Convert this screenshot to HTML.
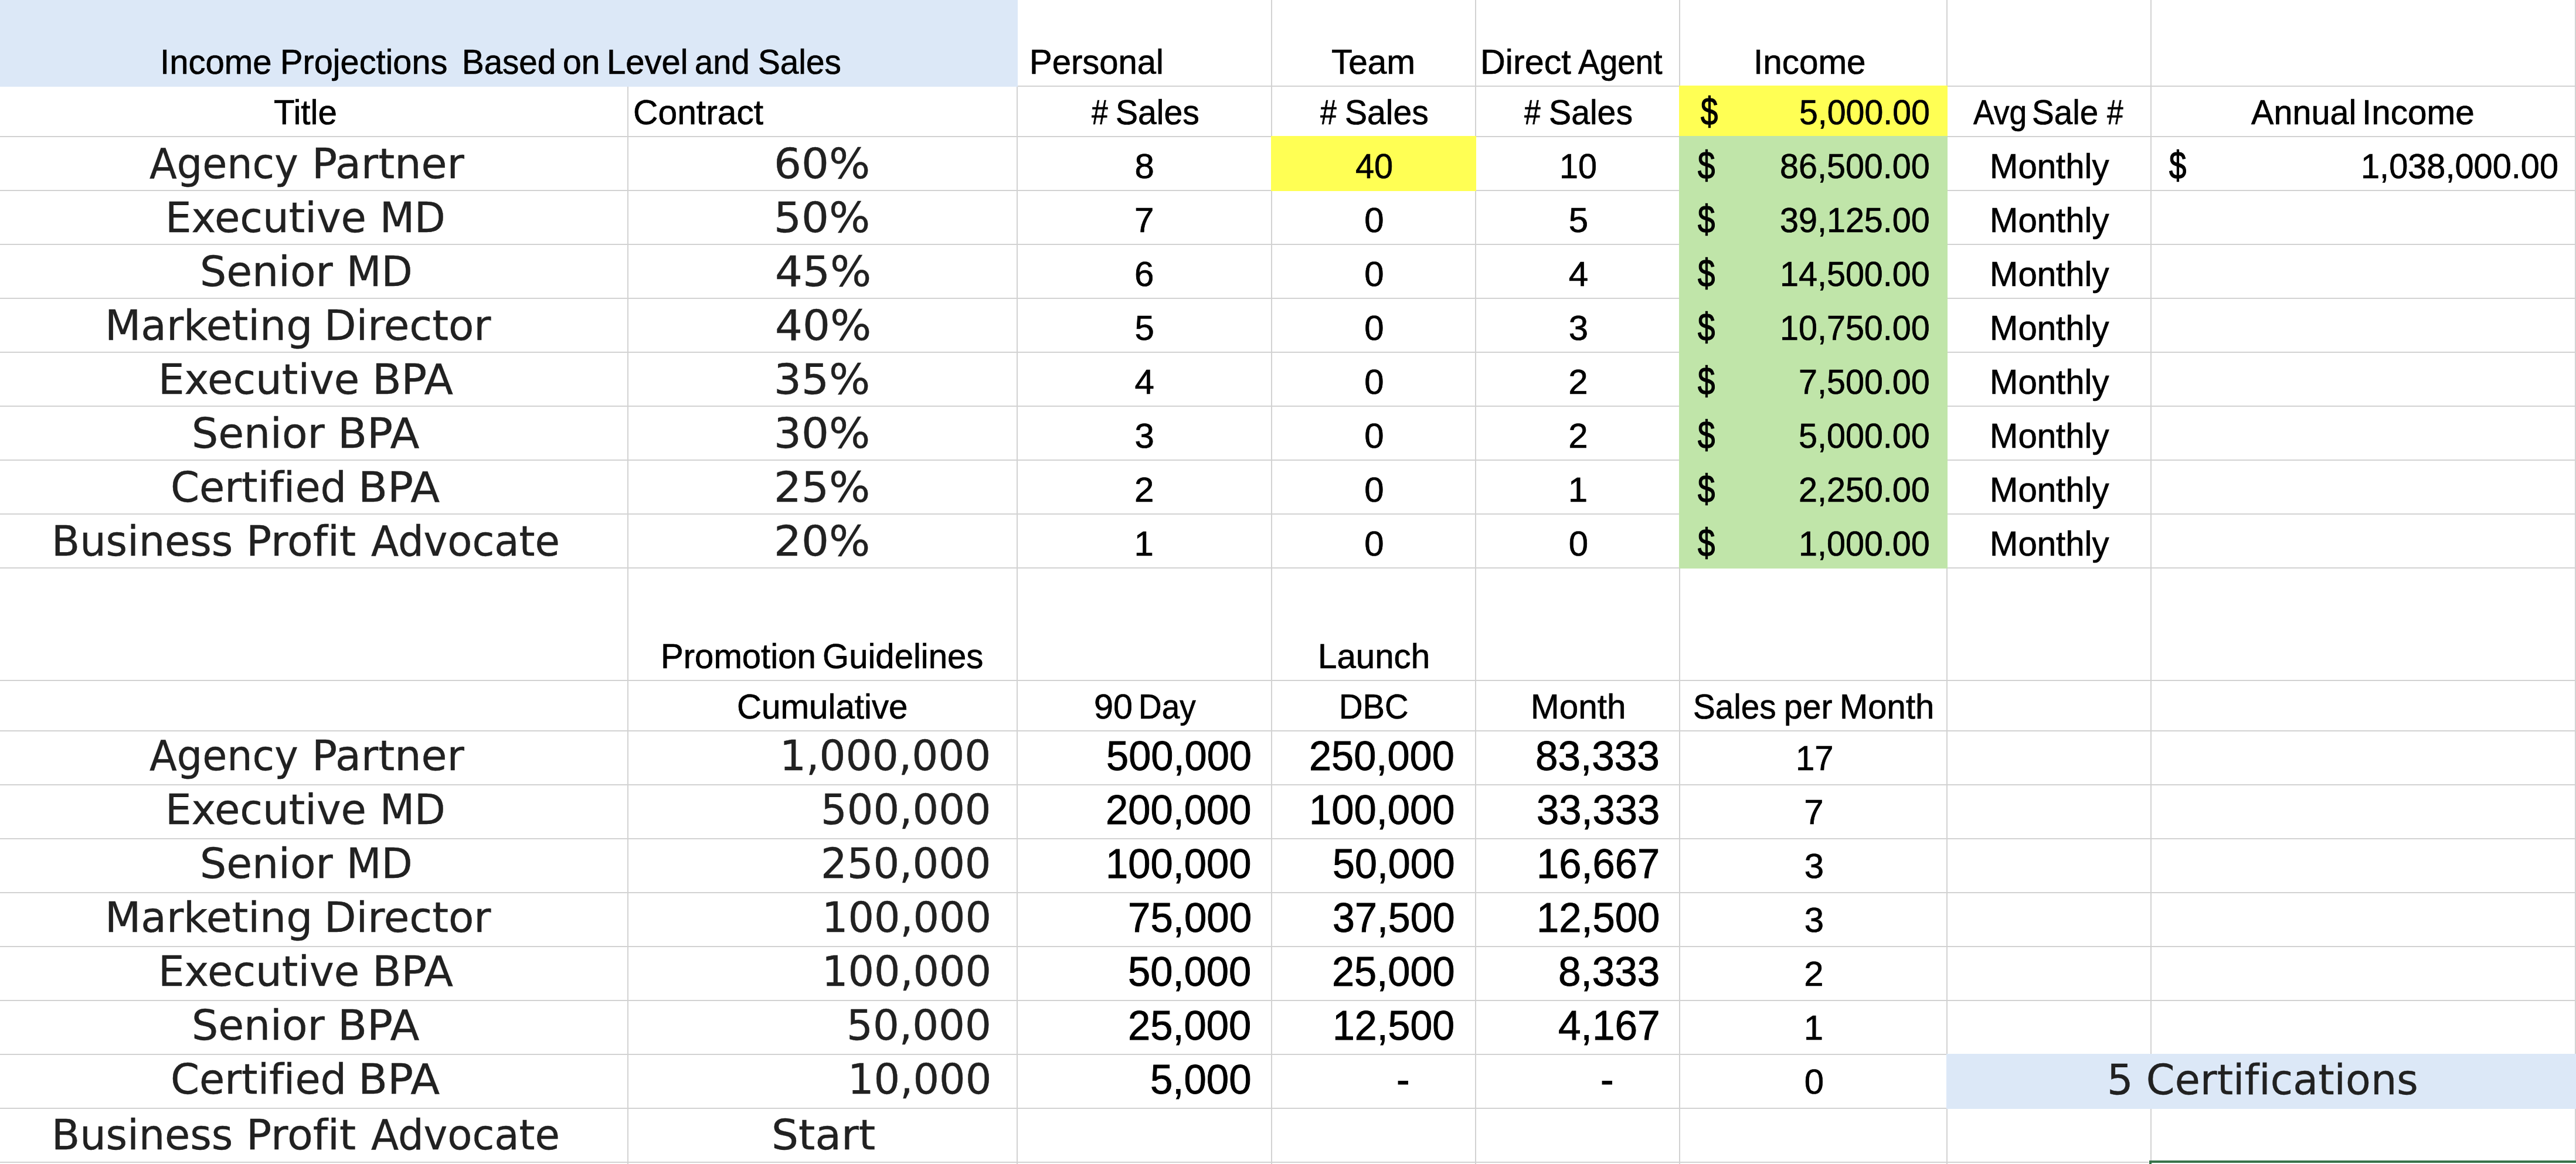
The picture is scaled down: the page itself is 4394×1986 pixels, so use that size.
<!DOCTYPE html>
<html lang="en"><head><meta charset="utf-8"><title>Income Projections</title>
<style>
html,body{margin:0;padding:0;background:#fff}
#sheet{position:relative;width:4394px;height:1986px;overflow:hidden;background:#fff}
.h,.v,.f,.t{position:absolute}
.h{left:0;width:4394px;height:2px;background:#d2d2d2}
.v{top:0;width:2px;height:1986px;background:#d2d2d2}
.t{white-space:pre;line-height:1;transform-origin:0 0;font-variant-ligatures:none}
.s{font-family:"Liberation Sans",sans-serif;font-size:60.0px;color:#000;-webkit-text-stroke:0.7px #000}
.d{font-family:"Liberation Sans",sans-serif;font-size:60.0px;color:#000;-webkit-text-stroke:1.2px #000}
.l{font-family:"Liberation Sans",sans-serif;font-size:70.2px;color:#000;-webkit-text-stroke:0.9px #000}
.vd{font-family:"DejaVu Sans","Liberation Sans",sans-serif;font-size:70.4px;color:#212121;-webkit-text-stroke:0.4px #212121}
</style></head><body>
<div id="sheet">
<div class="h" style="top:146px"></div>
<div class="h" style="top:232px"></div>
<div class="h" style="top:324px"></div>
<div class="h" style="top:416px"></div>
<div class="h" style="top:508px"></div>
<div class="h" style="top:600px"></div>
<div class="h" style="top:692px"></div>
<div class="h" style="top:784px"></div>
<div class="h" style="top:876px"></div>
<div class="h" style="top:968px"></div>
<div class="h" style="top:1160px"></div>
<div class="h" style="top:1246px"></div>
<div class="h" style="top:1338px"></div>
<div class="h" style="top:1430px"></div>
<div class="h" style="top:1522px"></div>
<div class="h" style="top:1614px"></div>
<div class="h" style="top:1706px"></div>
<div class="h" style="top:1798px"></div>
<div class="h" style="top:1890px"></div>
<div class="h" style="top:1982px"></div>
<div class="v" style="left:1070px"></div>
<div class="v" style="left:1734px"></div>
<div class="v" style="left:2168px"></div>
<div class="v" style="left:2516px"></div>
<div class="v" style="left:2864px"></div>
<div class="v" style="left:3320px"></div>
<div class="v" style="left:3668px"></div>
<div class="v" style="left:4392px"></div>
<div class="f" style="left:0px;top:0px;width:1736px;height:148px;background:#dce8f7"></div>
<div class="f" style="left:2864px;top:146px;width:458px;height:86px;background:#ffff54"></div>
<div class="f" style="left:2864px;top:232px;width:458px;height:738px;background:#c0e5a9"></div>
<div class="f" style="left:2168px;top:232px;width:350px;height:94px;background:#ffff54"></div>
<div class="f" style="left:3320px;top:1798px;width:1074px;height:94px;background:#dce8f7"></div>
<div class="f" style="left:3665px;top:1980px;width:729px;height:6px;background:#fff"></div>
<div class="f" style="left:3666px;top:1980px;width:728px;height:4px;background:#37734a"></div>
<div class="f" style="left:3666px;top:1980px;width:4px;height:6px;background:#37734a"></div>
<span class="p"><span class="t s" style="left:273.16px;top:75.90px;transform:scale(0.9684,1.0000)">Income</span> <span class="t s" style="left:477.69px;top:75.90px;transform:scale(0.9614,1.0000)">Projections</span>  <span class="t s" style="left:787.79px;top:75.90px;transform:scale(0.9414,1.0000)">Based</span> <span class="t s" style="left:960.10px;top:75.90px;transform:scale(0.9508,1.0000)">on</span> <span class="t s" style="left:1035.17px;top:75.90px;transform:scale(0.9667,1.0000)">Level</span> <span class="t s" style="left:1185.13px;top:75.90px;transform:scale(0.9368,1.0000)">and</span> <span class="t s" style="left:1292.61px;top:75.90px;transform:scale(0.9452,1.0000)">Sales</span></span>
<span class="t s" style="left:1755.86px;top:75.90px;transform:scale(0.9671,1.0000)">Personal</span>
<span class="t s" style="left:2271.02px;top:75.90px;transform:scale(0.9754,1.0000)">Team</span>
<span class="p"><span class="t s" style="left:2524.66px;top:75.90px;transform:scale(0.9882,1.0000)">Direct</span> <span class="t s" style="left:2692.00px;top:75.90px;transform:scale(0.9153,1.0000)">Agent</span></span>
<span class="t s" style="left:2991.13px;top:75.90px;transform:scale(0.9737,1.0000)">Income</span>
<span class="t s" style="left:466.93px;top:161.70px;transform:scale(0.9704,1.0000)">Title</span>
<span class="t s" style="left:1079.56px;top:161.70px;transform:scale(0.9799,1.0000)">Contract</span>
<span class="p"><span class="t s" style="left:1862.40px;top:161.70px;transform:scale(0.8303,1.0000)">#</span> <span class="t s" style="left:1903.30px;top:161.70px;transform:scale(0.9521,1.0000)">Sales</span></span>
<span class="p"><span class="t s" style="left:2252.00px;top:161.70px;transform:scale(0.8364,1.0000)">#</span> <span class="t s" style="left:2293.60px;top:161.70px;transform:scale(0.9521,1.0000)">Sales</span></span>
<span class="p"><span class="t s" style="left:2600.30px;top:161.70px;transform:scale(0.8303,1.0000)">#</span> <span class="t s" style="left:2641.99px;top:161.70px;transform:scale(0.9527,1.0000)">Sales</span></span>
<span class="t d" style="left:2901.40px;top:156.80px;transform:scale(0.8788,1.1167)">$</span>
<span class="t s" style="left:3068.59px;top:161.70px;transform:scale(0.9539,1.0000)">5,000.00</span>
<span class="p"><span class="t s" style="left:3366.20px;top:161.70px;transform:scale(0.8929,1.0000)">Avg</span> <span class="t s" style="left:3465.61px;top:161.70px;transform:scale(0.9431,1.0000)">Sale</span> <span class="t s" style="left:3594.20px;top:161.70px;transform:scale(0.8273,1.0000)">#</span></span>
<span class="p"><span class="t s" style="left:3840.30px;top:161.70px;transform:scale(0.9601,1.0000)">Annual</span> <span class="t s" style="left:4028.73px;top:161.70px;transform:scale(0.9747,1.0000)">Income</span></span>
<span class="p"><span class="t vd" style="left:255.00px;top:244.70px;transform:scale(0.9714,1.0000)">Agency</span> <span class="t vd" style="left:532.39px;top:244.70px;transform:scale(1.0161,1.0000)">Partner</span></span>
<span class="t vd" style="left:1320.45px;top:244.70px;transform:scale(1.0500,1.0000)">60%</span>
<span class="t s" style="left:1935.50px;top:254.20px;transform:scale(1.0000,1.0000)">8</span>
<span class="t s" style="left:2311.84px;top:254.20px;transform:scale(0.9625,1.0000)">40</span>
<span class="t s" style="left:2659.66px;top:254.20px;transform:scale(0.9590,1.0000)">10</span>
<span class="t d" style="left:2895.70px;top:249.30px;transform:scale(0.8818,1.1167)">$</span>
<span class="t s" style="left:3036.01px;top:254.20px;transform:scale(0.9581,1.0000)">86,500.00</span>
<span class="t s" style="left:3393.76px;top:254.20px;transform:scale(0.9683,1.0000)">Monthly</span>
<span class="p"><span class="t vd" style="left:282.00px;top:336.70px;transform:scale(1.0006,1.0000)">Executive</span> <span class="t vd" style="left:647.90px;top:336.70px;transform:scale(0.9721,1.0000)">MD</span></span>
<span class="t vd" style="left:1320.45px;top:336.70px;transform:scale(1.0500,1.0000)">50%</span>
<span class="t s" style="left:1935.00px;top:346.20px;transform:scale(1.0000,1.0000)">7</span>
<span class="t s" style="left:2327.30px;top:346.20px;transform:scale(1.0000,1.0000)">0</span>
<span class="t s" style="left:2675.80px;top:346.20px;transform:scale(1.0000,1.0000)">5</span>
<span class="t d" style="left:2895.70px;top:341.30px;transform:scale(0.8818,1.1167)">$</span>
<span class="t s" style="left:3036.01px;top:346.20px;transform:scale(0.9581,1.0000)">39,125.00</span>
<span class="t s" style="left:3393.76px;top:346.20px;transform:scale(0.9683,1.0000)">Monthly</span>
<span class="p"><span class="t vd" style="left:341.45px;top:428.70px;transform:scale(1.0114,1.0000)">Senior</span> <span class="t vd" style="left:591.33px;top:428.70px;transform:scale(0.9808,1.0000)">MD</span></span>
<span class="t vd" style="left:1321.50px;top:428.70px;transform:scale(1.0500,1.0000)">45%</span>
<span class="t s" style="left:1935.00px;top:438.20px;transform:scale(1.0000,1.0000)">6</span>
<span class="t s" style="left:2327.30px;top:438.20px;transform:scale(1.0000,1.0000)">0</span>
<span class="t s" style="left:2675.80px;top:438.20px;transform:scale(1.0000,1.0000)">4</span>
<span class="t d" style="left:2895.70px;top:433.30px;transform:scale(0.8818,1.1167)">$</span>
<span class="t s" style="left:3036.01px;top:438.20px;transform:scale(0.9581,1.0000)">14,500.00</span>
<span class="t s" style="left:3393.76px;top:438.20px;transform:scale(0.9683,1.0000)">Monthly</span>
<span class="p"><span class="t vd" style="left:178.63px;top:520.70px;transform:scale(1.0098,1.0000)">Marketing</span> <span class="t vd" style="left:553.46px;top:520.70px;transform:scale(1.0054,1.0000)">Director</span></span>
<span class="t vd" style="left:1321.50px;top:520.70px;transform:scale(1.0500,1.0000)">40%</span>
<span class="t s" style="left:1935.50px;top:530.20px;transform:scale(1.0000,1.0000)">5</span>
<span class="t s" style="left:2327.30px;top:530.20px;transform:scale(1.0000,1.0000)">0</span>
<span class="t s" style="left:2675.80px;top:530.20px;transform:scale(1.0000,1.0000)">3</span>
<span class="t d" style="left:2895.70px;top:525.30px;transform:scale(0.8818,1.1167)">$</span>
<span class="t s" style="left:3036.01px;top:530.20px;transform:scale(0.9581,1.0000)">10,750.00</span>
<span class="t s" style="left:3393.76px;top:530.20px;transform:scale(0.9683,1.0000)">Monthly</span>
<span class="p"><span class="t vd" style="left:269.59px;top:612.70px;transform:scale(1.0009,1.0000)">Executive</span> <span class="t vd" style="left:635.11px;top:612.70px;transform:scale(1.0276,1.0000)">BPA</span></span>
<span class="t vd" style="left:1320.45px;top:612.70px;transform:scale(1.0500,1.0000)">35%</span>
<span class="t s" style="left:1935.50px;top:622.20px;transform:scale(1.0000,1.0000)">4</span>
<span class="t s" style="left:2327.30px;top:622.20px;transform:scale(1.0000,1.0000)">0</span>
<span class="t s" style="left:2675.30px;top:622.20px;transform:scale(1.0000,1.0000)">2</span>
<span class="t d" style="left:2895.70px;top:617.30px;transform:scale(0.8818,1.1167)">$</span>
<span class="t s" style="left:3067.63px;top:622.20px;transform:scale(0.9581,1.0000)">7,500.00</span>
<span class="t s" style="left:3393.76px;top:622.20px;transform:scale(0.9683,1.0000)">Monthly</span>
<span class="p"><span class="t vd" style="left:327.25px;top:704.70px;transform:scale(1.0114,1.0000)">Senior</span> <span class="t vd" style="left:576.04px;top:704.70px;transform:scale(1.0370,1.0000)">BPA</span></span>
<span class="t vd" style="left:1320.45px;top:704.70px;transform:scale(1.0500,1.0000)">30%</span>
<span class="t s" style="left:1935.50px;top:714.20px;transform:scale(1.0000,1.0000)">3</span>
<span class="t s" style="left:2327.30px;top:714.20px;transform:scale(1.0000,1.0000)">0</span>
<span class="t s" style="left:2675.30px;top:714.20px;transform:scale(1.0000,1.0000)">2</span>
<span class="t d" style="left:2895.70px;top:709.30px;transform:scale(0.8818,1.1167)">$</span>
<span class="t s" style="left:3067.63px;top:714.20px;transform:scale(0.9581,1.0000)">5,000.00</span>
<span class="t s" style="left:3393.76px;top:714.20px;transform:scale(0.9683,1.0000)">Monthly</span>
<span class="p"><span class="t vd" style="left:291.01px;top:796.70px;transform:scale(0.9976,1.0000)">Certified</span> <span class="t vd" style="left:611.45px;top:796.70px;transform:scale(1.0362,1.0000)">BPA</span></span>
<span class="t vd" style="left:1320.45px;top:796.70px;transform:scale(1.0500,1.0000)">25%</span>
<span class="t s" style="left:1935.00px;top:806.20px;transform:scale(1.0000,1.0000)">2</span>
<span class="t s" style="left:2327.30px;top:806.20px;transform:scale(1.0000,1.0000)">0</span>
<span class="t s" style="left:2674.80px;top:806.20px;transform:scale(1.0000,1.0000)">1</span>
<span class="t d" style="left:2895.70px;top:801.30px;transform:scale(0.8818,1.1167)">$</span>
<span class="t s" style="left:3067.63px;top:806.20px;transform:scale(0.9581,1.0000)">2,250.00</span>
<span class="t s" style="left:3393.76px;top:806.20px;transform:scale(0.9683,1.0000)">Monthly</span>
<span class="p"><span class="t vd" style="left:87.72px;top:888.70px;transform:scale(0.9967,1.0000)">Business</span> <span class="t vd" style="left:419.57px;top:888.70px;transform:scale(1.0189,1.0000)">Profit</span> <span class="t vd" style="left:632.50px;top:888.70px;transform:scale(0.9782,1.0000)">Advocate</span></span>
<span class="t vd" style="left:1320.45px;top:888.70px;transform:scale(1.0500,1.0000)">20%</span>
<span class="t s" style="left:1934.50px;top:898.20px;transform:scale(1.0000,1.0000)">1</span>
<span class="t s" style="left:2327.30px;top:898.20px;transform:scale(1.0000,1.0000)">0</span>
<span class="t s" style="left:2675.80px;top:898.20px;transform:scale(1.0000,1.0000)">0</span>
<span class="t d" style="left:2895.70px;top:893.30px;transform:scale(0.8818,1.1167)">$</span>
<span class="t s" style="left:3067.63px;top:898.20px;transform:scale(0.9581,1.0000)">1,000.00</span>
<span class="t s" style="left:3393.76px;top:898.20px;transform:scale(0.9683,1.0000)">Monthly</span>
<span class="t d" style="left:3699.50px;top:249.30px;transform:scale(0.8788,1.1167)">$</span>
<span class="t s" style="left:4027.15px;top:254.20px;transform:scale(0.9622,1.0000)">1,038,000.00</span>
<span class="p"><span class="t s" style="left:1127.36px;top:1090.00px;transform:scale(0.9683,1.0000)">Promotion</span> <span class="t s" style="left:1403.40px;top:1090.00px;transform:scale(0.9677,1.0000)">Guidelines</span></span>
<span class="t s" style="left:2248.15px;top:1090.00px;transform:scale(0.9707,1.0000)">Launch</span>
<span class="t s" style="left:1257.09px;top:1176.00px;transform:scale(0.9712,1.0000)">Cumulative</span>
<span class="p"><span class="t s" style="left:1865.72px;top:1176.00px;transform:scale(0.9889,1.0000)">90</span> <span class="t s" style="left:1942.13px;top:1176.00px;transform:scale(0.9147,1.0000)">Day</span></span>
<span class="t s" style="left:2284.32px;top:1176.00px;transform:scale(0.9370,1.0000)">DBC</span>
<span class="t s" style="left:2610.63px;top:1176.00px;transform:scale(0.9747,1.0000)">Month</span>
<span class="p"><span class="t s" style="left:2888.01px;top:1176.00px;transform:scale(0.9438,1.0000)">Sales</span> <span class="t s" style="left:3042.50px;top:1176.00px;transform:scale(0.9500,1.0000)">per</span> <span class="t s" style="left:3137.96px;top:1176.00px;transform:scale(0.9671,1.0000)">Month</span></span>
<span class="p"><span class="t vd" style="left:255.00px;top:1255.10px;transform:scale(0.9714,1.0000)">Agency</span> <span class="t vd" style="left:532.39px;top:1255.10px;transform:scale(1.0161,1.0000)">Partner</span></span>
<span class="t vd" style="left:1330.46px;top:1255.10px;transform:scale(1.0058,1.0000)">1,000,000</span>
<span class="t l" style="left:1886.64px;top:1255.10px;transform:scale(0.9775,1.0000)">500,000</span>
<span class="t l" style="left:2233.47px;top:1255.10px;transform:scale(0.9766,1.0000)">250,000</span>
<span class="t l" style="left:2618.94px;top:1255.10px;transform:scale(0.9866,1.0000)">83,333</span>
<span class="t s" style="left:3062.73px;top:1264.10px;transform:scale(0.9683,1.0000)">17</span>
<span class="p"><span class="t vd" style="left:282.00px;top:1347.10px;transform:scale(1.0006,1.0000)">Executive</span> <span class="t vd" style="left:647.90px;top:1347.10px;transform:scale(0.9721,1.0000)">MD</span></span>
<span class="t vd" style="left:1400.01px;top:1347.10px;transform:scale(0.9982,1.0000)">500,000</span>
<span class="t l" style="left:1886.24px;top:1347.10px;transform:scale(0.9791,1.0000)">200,000</span>
<span class="t l" style="left:2232.84px;top:1347.10px;transform:scale(0.9791,1.0000)">100,000</span>
<span class="t l" style="left:2620.52px;top:1347.10px;transform:scale(0.9791,1.0000)">33,333</span>
<span class="t s" style="left:3077.20px;top:1356.10px;transform:scale(1.0000,1.0000)">7</span>
<span class="p"><span class="t vd" style="left:341.45px;top:1439.10px;transform:scale(1.0114,1.0000)">Senior</span> <span class="t vd" style="left:591.33px;top:1439.10px;transform:scale(0.9808,1.0000)">MD</span></span>
<span class="t vd" style="left:1400.01px;top:1439.10px;transform:scale(0.9982,1.0000)">250,000</span>
<span class="t l" style="left:1886.10px;top:1439.10px;transform:scale(0.9797,1.0000)">100,000</span>
<span class="t l" style="left:2272.56px;top:1439.10px;transform:scale(0.9719,1.0000)">50,000</span>
<span class="t l" style="left:2620.61px;top:1439.10px;transform:scale(0.9787,1.0000)">16,667</span>
<span class="t s" style="left:3077.70px;top:1448.10px;transform:scale(1.0000,1.0000)">3</span>
<span class="p"><span class="t vd" style="left:178.63px;top:1531.10px;transform:scale(1.0098,1.0000)">Marketing</span> <span class="t vd" style="left:553.46px;top:1531.10px;transform:scale(1.0054,1.0000)">Director</span></span>
<span class="t vd" style="left:1401.55px;top:1531.10px;transform:scale(0.9929,1.0000)">100,000</span>
<span class="t l" style="left:1923.55px;top:1531.10px;transform:scale(0.9833,1.0000)">75,000</span>
<span class="t l" style="left:2272.56px;top:1531.10px;transform:scale(0.9719,1.0000)">37,500</span>
<span class="t l" style="left:2620.61px;top:1531.10px;transform:scale(0.9787,1.0000)">12,500</span>
<span class="t s" style="left:3077.70px;top:1540.10px;transform:scale(1.0000,1.0000)">3</span>
<span class="p"><span class="t vd" style="left:269.59px;top:1623.10px;transform:scale(1.0009,1.0000)">Executive</span> <span class="t vd" style="left:635.11px;top:1623.10px;transform:scale(1.0276,1.0000)">BPA</span></span>
<span class="t vd" style="left:1401.55px;top:1623.10px;transform:scale(0.9929,1.0000)">100,000</span>
<span class="t l" style="left:1924.42px;top:1623.10px;transform:scale(0.9791,1.0000)">50,000</span>
<span class="t l" style="left:2271.57px;top:1623.10px;transform:scale(0.9766,1.0000)">25,000</span>
<span class="t l" style="left:2657.54px;top:1623.10px;transform:scale(0.9859,1.0000)">8,333</span>
<span class="t s" style="left:3077.20px;top:1632.10px;transform:scale(1.0000,1.0000)">2</span>
<span class="p"><span class="t vd" style="left:327.25px;top:1715.10px;transform:scale(1.0114,1.0000)">Senior</span> <span class="t vd" style="left:576.04px;top:1715.10px;transform:scale(1.0370,1.0000)">BPA</span></span>
<span class="t vd" style="left:1443.99px;top:1715.10px;transform:scale(1.0021,1.0000)">50,000</span>
<span class="t l" style="left:1924.42px;top:1715.10px;transform:scale(0.9791,1.0000)">25,000</span>
<span class="t l" style="left:2273.15px;top:1715.10px;transform:scale(0.9691,1.0000)">12,500</span>
<span class="t l" style="left:2658.01px;top:1715.10px;transform:scale(0.9889,1.0000)">4,167</span>
<span class="t s" style="left:3076.70px;top:1724.10px;transform:scale(1.0000,1.0000)">1</span>
<span class="p"><span class="t vd" style="left:291.01px;top:1807.10px;transform:scale(0.9976,1.0000)">Certified</span> <span class="t vd" style="left:611.45px;top:1807.10px;transform:scale(1.0362,1.0000)">BPA</span></span>
<span class="t vd" style="left:1445.53px;top:1807.10px;transform:scale(0.9957,1.0000)">10,000</span>
<span class="t l" style="left:1962.04px;top:1807.10px;transform:scale(0.9825,1.0000)">5,000</span>
<span class="t l" style="left:2382.00px;top:1806.50px;transform:scale(0.9667,1.0000)">-</span>
<span class="t l" style="left:2730.00px;top:1806.50px;transform:scale(0.9667,1.0000)">-</span>
<span class="t s" style="left:3077.70px;top:1816.10px;transform:scale(1.0000,1.0000)">0</span>
<span class="p"><span class="t vd" style="left:87.72px;top:1902.00px;transform:scale(0.9967,1.0000)">Business</span> <span class="t vd" style="left:419.57px;top:1902.00px;transform:scale(1.0189,1.0000)">Profit</span> <span class="t vd" style="left:632.50px;top:1902.00px;transform:scale(0.9782,1.0000)">Advocate</span></span>
<span class="t vd" style="left:1315.88px;top:1902.00px;transform:scale(1.0301,1.0000)">Start</span>
<span class="t vd" style="left:3593.52px;top:1807.50px;transform:scale(0.9952,1.0000)">5 Certifications</span>
</div>
</body></html>
